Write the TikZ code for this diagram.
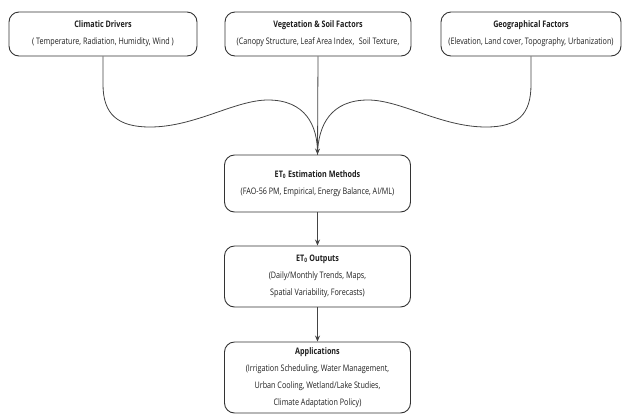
\documentclass[tikz,border=0pt]{standalone}
\usepackage{fontspec}
\setmainfont{Open Sans}[FakeStretch=0.8]
\usetikzlibrary{arrows.meta}
\definecolor{edge}{HTML}{333333}
\definecolor{link}{HTML}{444444}
\definecolor{txt}{HTML}{1E1E1E}
\tikzset{
  box/.style={draw=edge, line width=0.9pt, rounded corners=10pt, align=center,
    inner sep=0pt, text=txt, font=\fontsize{9}{17}\selectfont},
  conn/.style={draw=link, line width=0.8pt, -{Stealth[length=6pt,width=5pt]}},
  curve/.style={draw=link, line width=0.8pt}
}
\begin{document}
\begin{tikzpicture}[x=1pt,y=-1pt]
\useasboundingbox (0,0) rectangle (624,416);
\node[box, minimum width=188pt, minimum height=44pt] (cd) at (103,34)
  {\textbf{Climatic Drivers}\\( Temperature, Radiation, Humidity, Wind )};
\node[box, minimum width=186pt, minimum height=44pt] (vs) at (318,34)
  {\textbf{Vegetation \& Soil Factors}\\(Canopy Structure, Leaf Area Index,\enspace Soil Texture,};
\node[box, minimum width=180pt, minimum height=44pt] (gf) at (531,34)
  {\textbf{Geographical Factors}\\(Elevation, Land cover, Topography, Urbanization)};
\node[box, minimum width=186pt, minimum height=57pt] (em) at (317.5,183.5)
  {\textbf{ET\textsubscript{0} Estimation Methods}\\(FAO-56 PM, Empirical, Energy Balance, AI/ML)};
\node[box, minimum width=186pt, minimum height=61pt] (eo) at (317.5,276.5)
  {\textbf{ET\textsubscript{0} Outputs}\\(Daily/Monthly Trends, Maps,\\Spatial Variability, Forecasts)};
\node[box, minimum width=186pt, minimum height=71pt] (ap) at (317.5,377.5)
  {\textbf{Applications}\\(Irrigation Scheduling, Water Management,\\Urban Cooling, Wetland/Lake Studies,\\Climate Adaptation Policy)};
\draw[curve] (cd.south) -- ++(0,28) .. controls +(0,30) and (118,127) .. (150,127)
  .. controls (195,127) and (235,100) .. (268,100)
  .. controls (305,100) and (318,125) .. (em.north);
\draw[curve] (gf.south) -- ++(0,28) .. controls +(0,30) and (518,127) .. (486,127)
  .. controls (441,127) and (401,100) .. (368,100)
  .. controls (331,100) and (318,125) .. (em.north);
\draw[conn] (vs.south) -- (em.north);
\draw[conn] (em.south) -- (eo.north);
\draw[conn] (eo.south) -- (ap.north);
\end{tikzpicture}
\end{document}
